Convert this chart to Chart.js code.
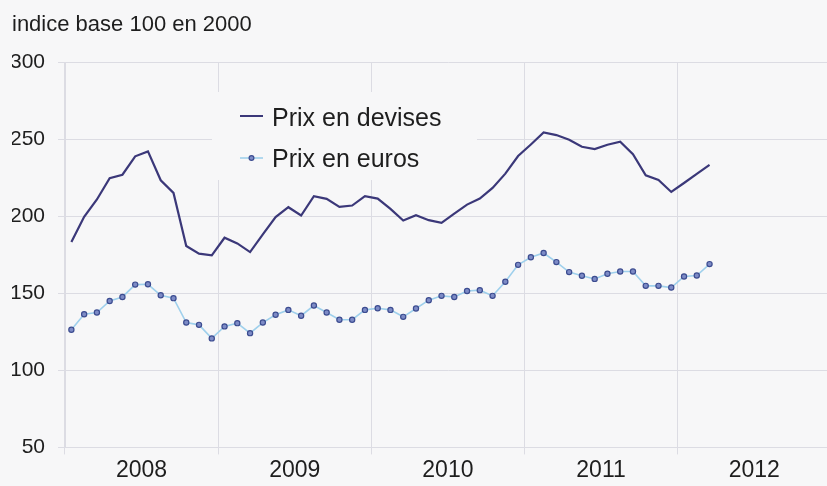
<!DOCTYPE html>
<html>
<head>
<meta charset="utf-8">
<script src="https://cdn.jsdelivr.net/npm/chart.js@4"></script>
<style>
  html, body { margin: 0; padding: 0; background: #f7f7f8; overflow: hidden; }
  #wrap { width: 827px; height: 486px; overflow: hidden; }
</style>
</head>
<body>
<div id="wrap"><canvas id="prixChart" width="836" height="486"></canvas></div>
<script>
// indices mensuels, janvier 2008 -> mars 2012
const years = ['2008', '2009', '2010', '2011', '2012'];
const prixDevises = [
    183.2, 199.6, 210.8, 224.6, 226.9, 238.8, 242.0, 223.3, 215.1, 180.6, 175.7, 174.6,
    186.0, 182.3, 176.7, 188.2, 199.4, 205.8, 200.4, 213.0, 211.2, 206.0, 206.9, 213.0,
    211.4, 204.7, 197.2, 200.6, 197.4, 195.7, 201.7, 207.5, 211.4, 218.3, 227.6, 239.0,
    246.5, 254.3, 252.6, 249.6, 245.0, 243.5, 246.3, 248.3, 240.2, 226.5, 223.5, 215.7,
    221.5, 227.4, 233.3
];
const prixEuros = [
    126.3, 136.4, 137.5, 145.0, 147.6, 155.6, 155.8, 148.7, 146.8, 131.0, 129.5, 120.7,
    128.5, 130.6, 124.1, 131.0, 136.0, 139.2, 135.4, 142.0, 137.5, 132.8, 132.8, 139.2,
    140.3, 139.2, 134.7, 140.1, 145.5, 148.3, 147.6, 151.5, 152.0, 148.3, 157.5, 168.4,
    173.3, 176.1, 170.2, 163.7, 161.3, 159.3, 162.6, 164.1, 164.1, 154.8, 154.8, 153.7,
    160.9, 161.5, 168.9
];
const yTicks = { min: 50, max: 300, step: 50 };

// une catégorie par mois sur l'axe (caché) des données
const months = [];
years.forEach(y => {
    for (let m = 1; m <= 12; m++) months.push(m + '/' + y);
});

const bg = '#f7f7f8';
const gridColor = '#dcdce3';
const textColor = '#1e1e1e';
const fontFamily = "'Liberation Sans', Arial, sans-serif";
const colDevises = '#3b3879';
const colEuros = '#9fd0ec';

// légende dessinée dans la zone du graphique, avec fond qui masque la grille
const legendBox = {
    id: 'legendBox',
    afterDraw(chart) {
        const ctx = chart.ctx;
        ctx.save();
        ctx.fillStyle = bg;
        ctx.fillRect(212, 92, 265, 88);
        ctx.font = '25px ' + fontFamily;
        ctx.fillStyle = textColor;
        ctx.textBaseline = 'alphabetic';

        ctx.strokeStyle = colDevises;
        ctx.lineWidth = 2;
        ctx.beginPath();
        ctx.moveTo(240, 116);
        ctx.lineTo(263, 116);
        ctx.stroke();
        ctx.fillText(chart.data.datasets[0].label, 272, 126);

        ctx.strokeStyle = colEuros;
        ctx.lineWidth = 1.6;
        ctx.beginPath();
        ctx.moveTo(240, 158);
        ctx.lineTo(263, 158);
        ctx.stroke();
        ctx.beginPath();
        ctx.arc(251.5, 158, 2.4, 0, Math.PI * 2);
        ctx.fillStyle = '#7d8bc6';
        ctx.fill();
        ctx.strokeStyle = '#3c4c90';
        ctx.lineWidth = 1.2;
        ctx.stroke();
        ctx.fillStyle = textColor;
        ctx.fillText(chart.data.datasets[1].label, 272, 167);
        ctx.restore();
    }
};

const ctx = document.getElementById('prixChart').getContext('2d');
new Chart(ctx, {
    type: 'line',
    data: {
        labels: months,
        datasets: [
            {
                label: 'Prix en devises',
                data: prixDevises,
                borderColor: colDevises,
                borderWidth: 2.2,
                pointRadius: 0,
                tension: 0
            },
            {
                label: 'Prix en euros',
                data: prixEuros,
                borderColor: colEuros,
                borderWidth: 1.6,
                pointRadius: 2.6,
                pointBorderWidth: 1.2,
                pointBackgroundColor: '#7d8bc6',
                pointBorderColor: '#3c4c90',
                tension: 0
            }
        ]
    },
    options: {
        responsive: false,
        animation: false,
        layout: {
            padding: { left: 12, right: 0, top: 0, bottom: 0 }
        },
        plugins: {
            legend: { display: false },
            tooltip: { enabled: false },
            title: {
                display: true,
                text: 'indice base 100 en 2000',
                align: 'start',
                color: textColor,
                font: { family: fontFamily, size: 22, weight: 'normal' },
                padding: { top: 12, bottom: 23.6 }
            }
        },
        scales: {
            x: {
                type: 'category',
                offset: true,
                display: false
            },
            years: {
                type: 'category',
                labels: years,
                position: 'bottom',
                offset: true,
                grid: { offset: true, color: gridColor, tickLength: 7 },
                border: { color: gridColor },
                ticks: {
                    color: textColor,
                    font: { family: fontFamily, size: 23 },
                    padding: 2,
                    maxRotation: 0,
                    autoSkip: false
                }
            },
            y: {
                min: yTicks.min,
                max: yTicks.max,
                grid: { color: gridColor, tickLength: 7 },
                border: { color: gridColor },
                ticks: {
                    stepSize: yTicks.step,
                    color: textColor,
                    font: { family: fontFamily, size: 21 },
                    padding: 13
                },
                afterFit: function(scale) {
                    scale.width = 53;
                }
            }
        }
    },
    plugins: [legendBox]
});
</script>
</body>
</html>
